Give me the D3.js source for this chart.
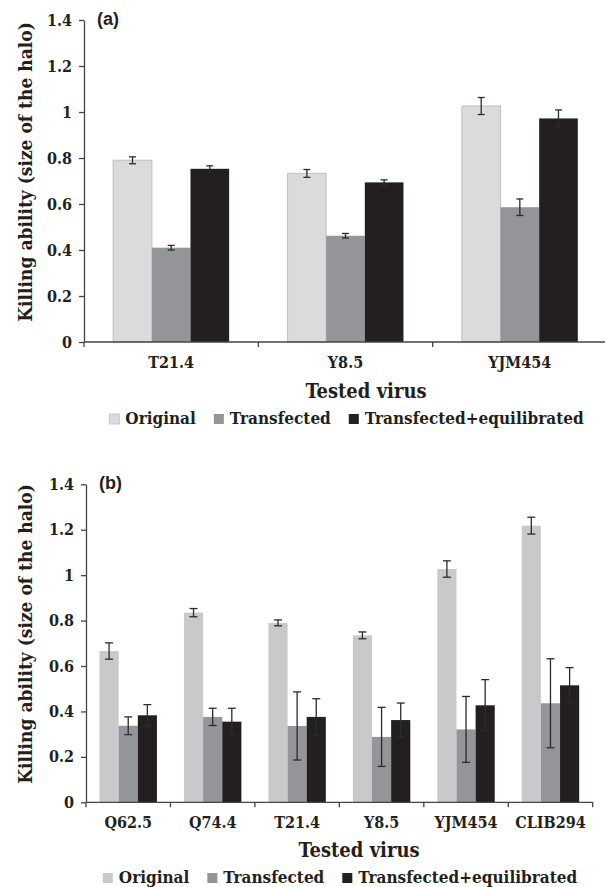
<!DOCTYPE html>
<html>
<head>
<meta charset="utf-8">
<script src="https://cdn.jsdelivr.net/npm/d3@7"></script>
<style>
  body { margin: 0; background: #fff; }
  text { font-family: 'DejaVu Serif Condensed', 'DejaVu Serif', serif; font-weight: bold; fill: #231f20; }
</style>
</head>
<body>
<div id="chart"></div>
<script>
// series names (legend order)
let seriesNames = ['Original', 'Transfected', 'Transfected+equilibrated']
let yTicks = [0, 0.2, 0.4, 0.6, 0.8, 1, 1.2, 1.4]

// panel (a)
let aCategories = ['T21.4', 'Y8.5', 'YJM454']
let aOriginal = [0.79, 0.733, 1.026]
let aOriginalErr = [0.015, 0.017, 0.037]
let aTransfected = [0.41, 0.462, 0.586]
let aTransfectedErr = [0.01, 0.01, 0.036]
let aEquilibrated = [0.753, 0.694, 0.972]
let aEquilibratedErr = [0.013, 0.011, 0.037]

// panel (b)
let bCategories = ['Q62.5', 'Q74.4', 'T21.4', 'Y8.5', 'YJM454', 'CLIB294']
let bOriginal = [0.666, 0.835, 0.79, 0.735, 1.027, 1.218]
let bOriginalErr = [0.036, 0.018, 0.013, 0.015, 0.036, 0.037]
let bTransfected = [0.337, 0.376, 0.336, 0.288, 0.321, 0.436]
let bTransfectedErr = [0.039, 0.038, 0.15, 0.13, 0.145, 0.196]
let bEquilibrated = [0.383, 0.355, 0.376, 0.362, 0.427, 0.515]
let bEquilibratedErr = [0.047, 0.059, 0.08, 0.075, 0.113, 0.078]

let width = 605
let height = 887
let serif = "'DejaVu Serif Condensed', 'DejaVu Serif', serif"

let svg = d3
  .select('#chart')
  .append('svg')
  .attr('width', width)
  .attr('height', height)

function buildRows(categories, vals, errs) {
  return categories.map((c, i) => ({
    key: c,
    bars: seriesNames.map((s, j) => ({ series: s, value: vals[j][i], err: errs[j][i] }))
  }))
}

function drawPanel(opts) {
  let g = svg.append('g')
  let rows = buildRows(opts.categories, opts.values, opts.errors)

  let x = d3.scaleBand().domain(opts.categories).range([opts.left, opts.right])
  let y = d3.scaleLinear().domain([0, 1.4]).range([opts.bottom, opts.top])
  let pad = x.bandwidth() * opts.groupPad
  let xInner = d3.scaleBand().domain(seriesNames).range([pad, x.bandwidth() - pad])
  let color = d3.scaleOrdinal().domain(seriesNames).range(opts.colors)

  let groups = g
    .selectAll('.group')
    .data(rows)
    .enter()
    .append('g')
    .attr('class', 'group')
    .attr('transform', d => `translate(${x(d.key)},0)`)

  groups
    .selectAll('rect')
    .data(d => d.bars)
    .enter()
    .append('rect')
    .attr('x', d => xInner(d.series))
    .attr('width', xInner.bandwidth())
    .attr('y', d => y(d.value))
    .attr('height', d => y(0) - y(d.value))
    .attr('fill', d => color(d.series))
    .attr('stroke', d => (d.series === 'Original' ? opts.origStroke : 'none'))
    .attr('stroke-width', 1.2)

  // error bars
  let eb = groups
    .selectAll('.err')
    .data(d => d.bars)
    .enter()
    .append('g')
    .attr('class', 'err')
    .attr('transform', d => `translate(${xInner(d.series) + xInner.bandwidth() / 2},0)`)
    .attr('stroke', '#2b2b2b')
    .attr('stroke-width', 1.3)

  eb.append('line')
    .attr('y1', d => y(d.value - d.err))
    .attr('y2', d => y(d.value + d.err))
  eb.append('line')
    .attr('x1', -opts.cap).attr('x2', opts.cap)
    .attr('y1', d => y(d.value + d.err)).attr('y2', d => y(d.value + d.err))
  eb.append('line')
    .attr('x1', -opts.cap).attr('x2', opts.cap)
    .attr('y1', d => y(d.value - d.err)).attr('y2', d => y(d.value - d.err))

  // y axis
  let yAxis = g
    .append('g')
    .attr('transform', `translate(${opts.left},0)`)
    .call(d3.axisLeft(y).tickValues(yTicks).tickFormat(d => d).tickSize(5).tickSizeOuter(0))
  yAxis.attr('font-family', serif).attr('font-size', 16)
  yAxis.select('.domain').attr('stroke', '#444').attr('stroke-width', 1.3)
  yAxis.selectAll('.tick line').attr('stroke', '#444').attr('stroke-width', 1.3)
  yAxis.selectAll('.tick text')
    .attr('x', -12)
    .attr('fill', '#231f20')
    .style('font-family', serif)
    .style('font-weight', 'bold')
    .style('font-size', '16px')

  // x axis line and boundary ticks
  g.append('line')
    .attr('x1', opts.left).attr('x2', opts.right)
    .attr('y1', y(0)).attr('y2', y(0))
    .attr('stroke', '#444').attr('stroke-width', 1.3)
  let bounds = opts.categories.map(c => x(c)).concat([x.range()[1]])
  g.selectAll('.xtick')
    .data(bounds)
    .enter()
    .append('line')
    .attr('class', 'xtick')
    .attr('x1', d => d).attr('x2', d => d)
    .attr('y1', y(0)).attr('y2', y(0) + 5)
    .attr('stroke', '#444').attr('stroke-width', 1.3)

  g.selectAll('.xlabel')
    .data(opts.categories)
    .enter()
    .append('text')
    .attr('class', 'xlabel')
    .attr('x', d => x(d) + x.bandwidth() / 2)
    .attr('y', opts.xLabelY)
    .attr('text-anchor', 'middle')
    .attr('font-size', 16)
    .text(d => d)

  g.append('text')
    .attr('x', opts.xTitleX)
    .attr('y', opts.xTitleY)
    .attr('text-anchor', 'middle')
    .attr('font-size', 20)
    .text('Tested virus')

  g.append('text')
    .attr('transform', `translate(32,${opts.yTitleY}) rotate(-90)`)
    .attr('text-anchor', 'middle')
    .attr('font-size', 19)
    .text('Killing ability (size of the halo)')

  g.append('text')
    .attr('x', opts.left + 13)
    .attr('y', opts.top + 5)
    .attr('font-size', 18)
    .style('font-family', "'Liberation Sans', Arial, sans-serif")
    .text(opts.label)

  // legend
  let legend = g.append('g').attr('transform', `translate(0,${opts.legendY})`)
  let items = legend
    .selectAll('.legend-entry')
    .data(seriesNames)
    .enter()
    .append('g')
    .attr('class', 'legend-entry')
  items.append('rect')
    .attr('y', -10)
    .attr('width', 10)
    .attr('height', 10)
    .attr('fill', d => color(d))
    .attr('stroke', d => (d === 'Original' ? opts.origStroke : 'none'))
  items.append('text')
    .attr('x', 16)
    .attr('font-size', 17)
    .text(d => d)

  let offsets = []
  let cursor = 0
  items.each(function() {
    offsets.push(cursor)
    cursor += 16 + d3.select(this).select('text').node().getComputedTextLength() + 18
  })
  let total = cursor - 18
  let start = opts.legendCenter - total / 2
  items.attr('transform', (d, i) => `translate(${start + offsets[i]},0)`)
}

drawPanel({
  label: '(a)',
  categories: aCategories,
  values: [aOriginal, aTransfected, aEquilibrated],
  errors: [aOriginalErr, aTransfectedErr, aEquilibratedErr],
  left: 84, right: 607, top: 20, bottom: 342,
  groupPad: 0.1675,
  colors: ['#dadbdd', '#939598', '#231f20'],
  origStroke: '#c4c5c7',
  cap: 3.5,
  xLabelY: 368,
  xTitleX: 366, xTitleY: 398,
  yTitleY: 172,
  legendY: 424, legendCenter: 346.5
})

drawPanel({
  label: '(b)',
  categories: bCategories,
  values: [bOriginal, bTransfected, bEquilibrated],
  errors: [bOriginalErr, bTransfectedErr, bEquilibratedErr],
  left: 86, right: 592.7, top: 484.3, bottom: 802.3,
  groupPad: 0.16,
  colors: ['#c8c9cb', '#939598', '#231f20'],
  origStroke: 'none',
  cap: 4,
  xLabelY: 828,
  xTitleX: 359, xTitleY: 857,
  yTitleY: 634,
  legendY: 883, legendCenter: 340
})
</script>
</body>
</html>
